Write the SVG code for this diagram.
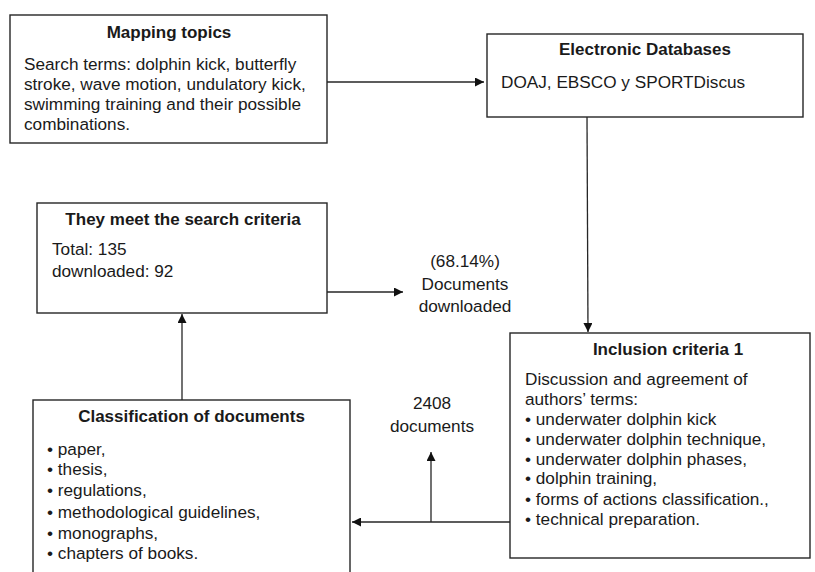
<svg xmlns="http://www.w3.org/2000/svg" width="815" height="572" viewBox="0 0 815 572">
<defs>
<style>
.box{fill:#fff;stroke:#262626;stroke-width:1.4}
.t{font-family:"Liberation Sans",Arial,sans-serif;font-size:17.2px;fill:#1a1a1a}
.b{font-weight:bold;text-anchor:middle;font-size:17px}
.c{text-anchor:middle}
.ln{fill:none;stroke:#262626;stroke-width:1.3}
</style>
<marker id="ah" viewBox="0 0 10 10" refX="10" refY="5" markerWidth="9" markerHeight="9" markerUnits="userSpaceOnUse" orient="auto">
<path d="M0,0 L10,5 L0,10 z" fill="#111"/>
</marker>
</defs>
<rect width="815" height="572" fill="#fff"/>
<g id="connectors">
<line class="ln" x1="327" y1="82" x2="484" y2="82" marker-end="url(#ah)"/>
<line class="ln" x1="587" y1="117" x2="588" y2="332" marker-end="url(#ah)"/>
<line class="ln" x1="510" y1="522" x2="352" y2="522" marker-end="url(#ah)"/>
<line class="ln" x1="431" y1="522" x2="431" y2="452" marker-end="url(#ah)"/>
<line class="ln" x1="182" y1="400" x2="182" y2="314" marker-end="url(#ah)"/>
<line class="ln" x1="327" y1="292" x2="403" y2="292" marker-end="url(#ah)"/>
</g>
<g id="mapping">
<rect class="box" x="10" y="15" width="317" height="128"/>
<text class="t b" x="169" y="38">Mapping topics</text>
<text class="t" x="24" y="70">Search terms: dolphin kick, butterfly</text>
<text class="t" x="24" y="90">stroke, wave motion, undulatory kick,</text>
<text class="t" x="24" y="110">swimming training and their possible</text>
<text class="t" x="24" y="130">combinations.</text>
</g>
<g id="databases">
<rect class="box" x="487" y="34" width="316" height="83"/>
<text class="t b" x="645" y="55">Electronic Databases</text>
<text class="t" x="501" y="88">DOAJ, EBSCO y SPORTDiscus</text>
</g>
<g id="search">
<rect class="box" x="37" y="203" width="290" height="110"/>
<text class="t b" x="183" y="225">They meet the search criteria</text>
<text class="t" x="52" y="255">Total: 135</text>
<text class="t" x="52" y="277">downloaded: 92</text>
</g>
<g id="downloaded">
<text class="t c" x="465" y="267">(68.14%)</text>
<text class="t c" x="465" y="290">Documents</text>
<text class="t c" x="465" y="312">downloaded</text>
</g>
<g id="inclusion">
<rect class="box" x="510" y="333" width="300" height="225"/>
<text class="t b" x="668" y="355">Inclusion criteria 1</text>
<text class="t" x="525" y="385">Discussion and agreement of</text>
<text class="t" x="525" y="405">authors’ terms:</text>
<text class="t" x="525" y="425">• underwater dolphin kick</text>
<text class="t" x="525" y="445">• underwater dolphin technique,</text>
<text class="t" x="525" y="465">• underwater dolphin phases,</text>
<text class="t" x="525" y="484">• dolphin training,</text>
<text class="t" x="525" y="505">• forms of actions classification.,</text>
<text class="t" x="525" y="525">• technical preparation.</text>
</g>
<g id="count">
<text class="t c" x="432" y="409">2408</text>
<text class="t c" x="432" y="432">documents</text>
</g>
<g id="classification">
<rect class="box" x="33" y="400" width="317" height="180"/>
<text class="t b" x="191.5" y="422">Classification of documents</text>
<text class="t" x="47" y="455">•  paper,</text>
<text class="t" x="47" y="475">• thesis,</text>
<text class="t" x="47" y="496">• regulations,</text>
<text class="t" x="47" y="518">• methodological guidelines,</text>
<text class="t" x="47" y="539">• monographs,</text>
<text class="t" x="47" y="559">• chapters of books.</text>
</g>
</svg>
